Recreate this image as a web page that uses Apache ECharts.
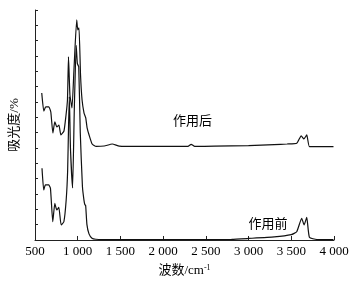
<!DOCTYPE html>
<html>
<head>
<meta charset="utf-8">
<script src="https://cdn.jsdelivr.net/npm/echarts@6/dist/echarts.min.js"></script>
<style>html,body{margin:0;padding:0;background:#fff;}#c{width:363px;height:282px;}</style>
</head>
<body>
<div id="c"></div>
<script>
// wavenumber (cm^-1) and absorbance readings, 作用后 (upper trace)
const waveAfter = [579,603,626,662,685,709,732,756,780,803,839,862,880,892,909,933,956,988,1001,1015,1033,1051,1074,1094,1110,1133,1169,1216,1310,1404,1487,1722,2000,2290,2328,2370,2600,3000,3300,3450,3564,3616,3648,3681,3712,3800,3994];
const absAfter  = [9.59,8.41,8.68,8.68,8.35,6.98,7.70,7.37,7.50,6.85,7.11,8.09,9.13,11.94,9.46,8.61,11.09,14.35,13.70,13.83,10.76,9.13,8.28,7.96,7.31,6.85,6.26,6.10,6.13,6.26,6.12,6.10,6.10,6.10,6.24,6.10,6.12,6.15,6.22,6.26,6.31,6.80,6.59,6.85,6.09,6.09,6.09];
// 作用前 (lower trace)
const waveBefore = [582,602,622,661,681,708,732,755,779,806,838,865,882,893,902,915,940,960,982,996,1012,1030,1055,1073,1084,1093,1108,1132,1167,1211,1300,2000,2500,2800,3000,3300,3500,3564,3622,3650,3681,3712,3800,3994];
const absBefore  = [4.68,3.26,3.59,3.59,3.37,1.19,2.39,1.96,2.13,0.98,1.19,2.61,4.5,7.5,9.35,6.0,3.39,8.5,12.7,11.5,11.3,7.0,3.5,2.6,2.3,2.25,1.0,0.4,0.12,0.05,0.03,0.03,0.03,0.04,0.1,0.2,0.35,0.54,1.42,0.98,1.48,0.18,0.03,0.03];
const xTicks = [500,1000,1500,2000,2500,3000,3500,4000];
const xTickLabels = ['500','1 000','1 500','2 000','2 500','3 000','3 500','4 000'];
const seriesNames = ['作用后','作用前'];

const zip = (a,b) => a.map((v,i)=>[v,b[i]]);
const FONT = 'Liberation Serif, Noto Sans CJK SC, serif';
const chart = echarts.init(document.getElementById('c'), null, {renderer:'canvas'});
const tag = (text, coord) => ({
  symbol:'circle',symbolSize:1,itemStyle:{color:'rgba(0,0,0,0)'},
  label:{show:true,position:'inside',formatter:text,color:'#000',fontFamily:FONT,fontSize:13},
  data:[{coord:coord}]
});
chart.setOption({
  animation:false,
  backgroundColor:'#fff',
  grid:{left:35,right:29,top:10,bottom:42},
  xAxis:{
    type:'value',min:500,max:4000,interval:500,
    axisLine:{show:true,lineStyle:{color:'#222',width:1}},
    axisTick:{show:true,inside:true,length:4,lineStyle:{color:'#222'}},
    splitLine:{show:false},
    axisLabel:{color:'#000',fontFamily:FONT,fontSize:13,margin:5,
      formatter:v=>{const i=xTicks.indexOf(v);return i>=0?xTickLabels[i]:'';}},
    name:'波数/cm{sup|-1}',nameLocation:'middle',nameGap:24,
    nameTextStyle:{color:'#000',fontFamily:FONT,fontSize:13,
      rich:{sup:{fontSize:8,verticalAlign:'top',fontFamily:FONT,color:'#000'}}}
  },
  yAxis:{
    type:'value',min:0,max:15,interval:1,
    axisLine:{show:true,lineStyle:{color:'#222',width:1}},
    axisTick:{show:true,inside:true,length:3,lineStyle:{color:'#222'}},
    splitLine:{show:false},
    axisLabel:{show:false},
    name:'吸光度/%',nameLocation:'middle',nameGap:14,
    nameTextStyle:{color:'#000',fontFamily:FONT,fontSize:13}
  },
  series:[
    {name:seriesNames[0],type:'line',data:zip(waveAfter,absAfter),showSymbol:false,smooth:0.15,
     lineStyle:{color:'#111',width:1.2},
     markPoint:tag(seriesNames[0],[2344,7.7])},
    {name:seriesNames[1],type:'line',data:zip(waveBefore,absBefore),showSymbol:false,smooth:0.15,
     lineStyle:{color:'#111',width:1.2},
     markPoint:tag(seriesNames[1],[3226,0.98])}
  ]
});
</script>
</body>
</html>
